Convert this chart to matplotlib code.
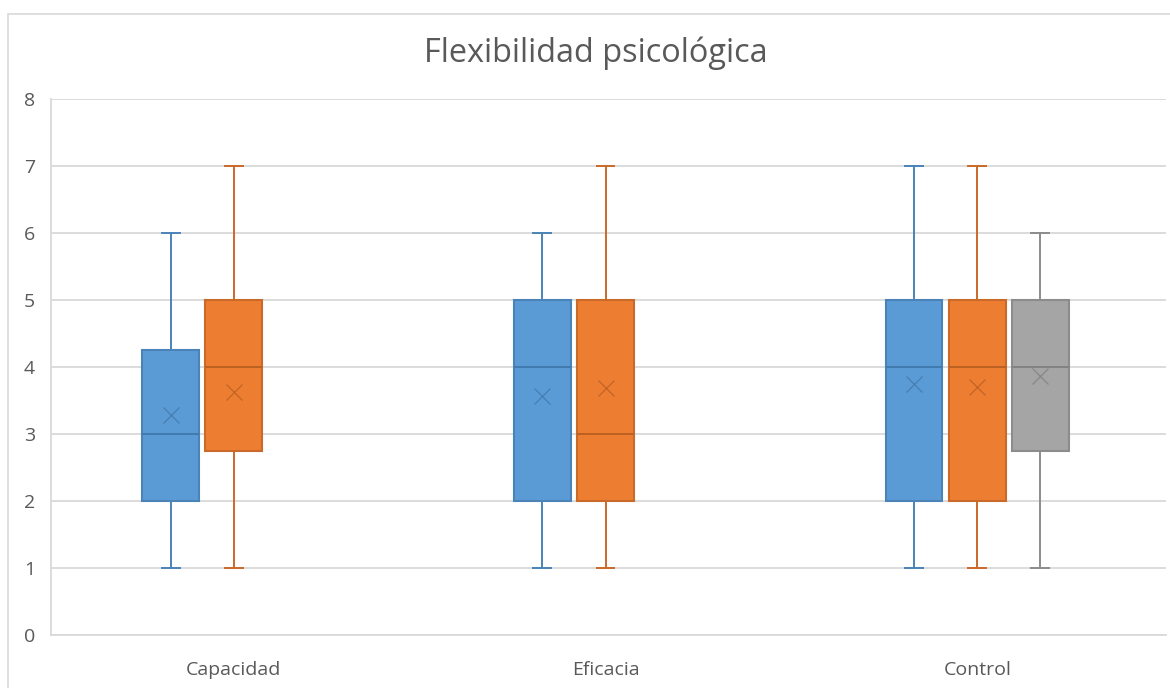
import matplotlib
matplotlib.use("Agg")
import matplotlib.pyplot as plt
from matplotlib.patches import Rectangle

categories = ["Capacidad", "Eficacia", "Control"]
title = "Flexibilidad psicológica"

# series: blue, orange, gray (None = no box in that category)
blue_whislo = [1, 1, 1]
blue_q1 = [2, 2, 2]
blue_med = [3, 4, 4]
blue_q3 = [4.25, 5, 5]
blue_whishi = [6, 6, 7]
blue_mean = [3.28, 3.57, 3.74]

orange_whislo = [1, 1, 1]
orange_q1 = [2.75, 2, 2]
orange_med = [4, 3, 4]
orange_q3 = [5, 5, 5]
orange_whishi = [7, 7, 7]
orange_mean = [3.63, 3.69, 3.70]

gray_whislo = [None, None, 1]
gray_q1 = [None, None, 2.75]
gray_med = [None, None, 4]
gray_q3 = [None, None, 5]
gray_whishi = [None, None, 6]
gray_mean = [None, None, 3.87]

yticks = [0, 1, 2, 3, 4, 5, 6, 7, 8]

series = [
    (blue_whislo, blue_q1, blue_med, blue_q3, blue_whishi, blue_mean,
     "#5B9BD5", "#4A83B8", "#3F77AA"),
    (orange_whislo, orange_q1, orange_med, orange_q3, orange_whishi, orange_mean,
     "#ED7D31", "#C9692A", "#B85E22"),
    (gray_whislo, gray_q1, gray_med, gray_q3, gray_whishi, gray_mean,
     "#A5A5A5", "#8C8C8C", "#808080"),
]

plt.rcParams['font.family'] = ['Open Sans', 'DejaVu Sans']

fig = plt.figure(figsize=(11.7, 6.88), dpi=100)
# outer chart border
fig.patches.append(Rectangle((8 / 1170, -0.1), 1.2, (1 - 14 / 688) + 0.1,
                             transform=fig.transFigure, fill=False,
                             edgecolor="#D9D9D9", linewidth=1.2))

ax = fig.add_axes([51 / 1170, 1 - 635 / 688, (1166 - 51) / 1170, (635 - 99) / 688])

offsets = [-0.17, 0.0, 0.17]
box_w = 0.153
cap_w = 0.048

for si, (wl, q1, med, q3, wh, mn, fc, ec, dc) in enumerate(series):
    pos, stats = [], []
    for ci in range(len(categories)):
        if q1[ci] is None:
            continue
        pos.append(ci + offsets[si])
        stats.append(dict(whislo=wl[ci], q1=q1[ci], med=med[ci], q3=q3[ci],
                          whishi=wh[ci], mean=mn[ci], fliers=[]))
    ax.bxp(stats, positions=pos, widths=box_w, patch_artist=True,
           showmeans=True, showfliers=False, manage_ticks=False,
           boxprops=dict(facecolor=fc, edgecolor=ec, linewidth=1.5),
           medianprops=dict(color=dc, linewidth=1.3),
           whiskerprops=dict(color=ec, linewidth=1.4),
           capprops=dict(color=ec, linewidth=1.4),
           capwidths=cap_w,
           meanprops=dict(marker="x", markersize=11, markeredgecolor=dc,
                          markeredgewidth=0.9, alpha=0.8),
           zorder=3)

ax.set_xlim(-0.492, len(categories) - 0.492)
ax.set_ylim(0, 8)
ax.set_yticks(yticks)
ax.set_xticks(range(len(categories)))
ax.set_xticklabels(categories)
ax.yaxis.grid(True, color="#D9D9D9", linewidth=1.3, zorder=0)
ax.set_axisbelow(True)
for s in ["top", "right"]:
    ax.spines[s].set_visible(False)
ax.spines["left"].set_color("#D9D9D9")
ax.spines["bottom"].set_color("#D9D9D9")
ax.spines["left"].set_linewidth(1.3)
ax.spines["bottom"].set_linewidth(1.3)
ax.tick_params(axis="both", length=0, labelsize=14, colors="#595959")
ax.tick_params(axis="x", pad=18.5)
ax.tick_params(axis="y", pad=11.5)

fig.text(596 / 1170, 1 - 62 / 688, title, ha="center", va="baseline",
         fontsize=23.4, color="#595959")

fig.savefig("out.png", dpi=100)
